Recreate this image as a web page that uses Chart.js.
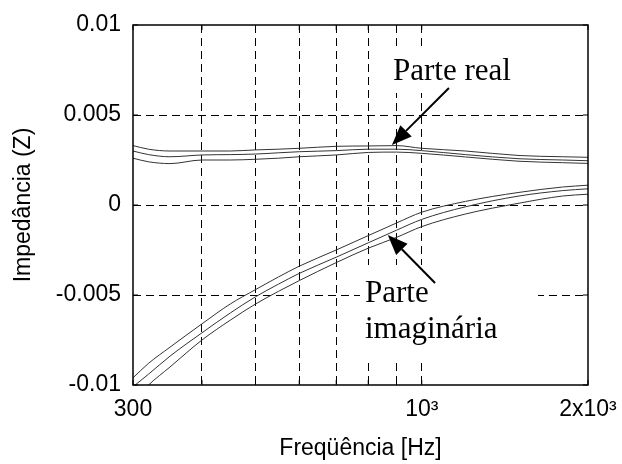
<!DOCTYPE html>
<html>
<head>
<meta charset="utf-8">
<script src="https://cdn.jsdelivr.net/npm/chart.js@4/dist/chart.umd.min.js"></script>
<style>
html, body { margin: 0; padding: 0; background: #fff; }
#caja { width: 622px; height: 464px; }
</style>
</head>
<body>
<div id="caja"><canvas id="grafico"></canvas></div>
<script>
// ---------------- DATOS ----------------
const frecuencias = [300, 320, 350, 400, 450, 500, 550, 600, 700, 800, 900, 1000, 1200, 1500, 1800, 2000];

// Parte real (tres curvas)
const realSup = [0.0033, 0.0031, 0.0030, 0.0030, 0.0030, 0.00306, 0.0031, 0.00315, 0.00326, 0.00328, 0.0033, 0.00315, 0.0030, 0.00275, 0.00268, 0.00265];
const realMed = [0.0030, 0.0028, 0.00268, 0.00278, 0.0028, 0.00283, 0.0029, 0.00296, 0.00302, 0.0031, 0.0031, 0.00302, 0.0028, 0.00257, 0.0025, 0.00246];
const realInf = [0.0026, 0.0024, 0.0023, 0.0025, 0.0025, 0.00254, 0.0026, 0.00268, 0.00278, 0.00292, 0.00294, 0.00287, 0.00267, 0.00243, 0.00235, 0.00231];

// Parte imaginaria (tres curvas)
const imagSup = [-0.0096, -0.0088, -0.0079, -0.0066, -0.0055, -0.0047, -0.0040, -0.0034, -0.0025, -0.0017, -0.0010, -0.0004, 0.0002, 0.0007, 0.0010, 0.0011];
const imagMed = [-0.0101, -0.0094, -0.0084, -0.0071, -0.0060, -0.0051, -0.0044, -0.0038, -0.0029, -0.0021, -0.0014, -0.0008, -0.0001, 0.0005, 0.0008, 0.0009];
const imagInf = [-0.0109, -0.0100, -0.0090, -0.0075, -0.0064, -0.0055, -0.0048, -0.0042, -0.0032, -0.0024, -0.0018, -0.0012, -0.0005, 0.0001, 0.0005, 0.0006];

// Ejes
const ticksX = [300, 400, 500, 600, 700, 800, 900, 1000, 2000];
const rotulosX = { 300: '300', 1000: '10³', 2000: '2x10³' };
const ticksY = [-0.01, -0.005, 0, 0.005, 0.01];
const rotulosY = ['-0.01', '-0.005', '0', '0.005', '0.01'];

// Flechas: [cola, punta] en coordenadas de datos
const flechaReal = [[1120, 0.0065], [883, 0.00333]];
const flechaImag = [[1057, -0.00433], [868, -0.00167]];

// ---------------- GRÁFICA ----------------
function serie(valores) {
    return {
        data: frecuencias.map((f, i) => ({ x: f, y: valores[i] })),
        borderColor: '#333',
        borderWidth: 1,
        pointRadius: 0,
        cubicInterpolationMode: 'monotone',
        fill: false
    };
}

function dibujarFlecha(ctx, x1, y1, x2, y2) {
    const ang = Math.atan2(y2 - y1, x2 - x1);
    const largo = 20, ancho = 8;
    const bx = x2 - largo * Math.cos(ang), by = y2 - largo * Math.sin(ang);
    ctx.strokeStyle = '#000';
    ctx.fillStyle = '#000';
    ctx.lineWidth = 2;
    ctx.beginPath();
    ctx.moveTo(x1, y1);
    ctx.lineTo(bx, by);
    ctx.stroke();
    ctx.beginPath();
    ctx.moveTo(x2, y2);
    ctx.lineTo(bx + ancho * Math.sin(ang), by - ancho * Math.cos(ang));
    ctx.lineTo(bx - ancho * Math.sin(ang), by + ancho * Math.cos(ang));
    ctx.closePath();
    ctx.fill();
}

const marco = {
    id: 'marco',
    afterDatasetsDraw(chart) {
        const { ctx, chartArea: a, scales } = chart;
        ctx.save();
        // marco del área
        ctx.strokeStyle = '#000';
        ctx.lineWidth = 1.5;
        ctx.strokeRect(a.left, a.top, a.right - a.left, a.bottom - a.top);
        // marcas hacia dentro
        ctx.lineWidth = 1;
        ctx.beginPath();
        ticksX.forEach(v => {
            const x = scales.x.getPixelForValue(v);
            ctx.moveTo(x, a.bottom); ctx.lineTo(x, a.bottom - 5);
            ctx.moveTo(x, a.top); ctx.lineTo(x, a.top + 5);
        });
        ticksY.forEach(v => {
            const y = scales.y.getPixelForValue(v);
            ctx.moveTo(a.left, y); ctx.lineTo(a.left + 5, y);
            ctx.moveTo(a.right, y); ctx.lineTo(a.right - 5, y);
        });
        ctx.stroke();

        // textos con fondo blanco
        ctx.fillStyle = '#fff';
        ctx.fillRect(388, 50, 132, 43);
        ctx.fillRect(360, 265, 178, 95);
        ctx.fillStyle = '#000';
        ctx.font = '31px "Liberation Serif", "Times New Roman", serif';
        ctx.textBaseline = 'alphabetic';
        ctx.textAlign = 'left';
        ctx.fillText('Parte real', 393, 80);
        ctx.fillText('Parte', 365, 302);
        ctx.fillText('imaginária', 365, 338);

        [flechaReal, flechaImag].forEach(([c, p]) => {
            dibujarFlecha(ctx,
                scales.x.getPixelForValue(c[0]), scales.y.getPixelForValue(c[1]),
                scales.x.getPixelForValue(p[0]), scales.y.getPixelForValue(p[1]));
        });
        ctx.restore();
    }
};

const fuente = { family: '"Liberation Sans", Arial, sans-serif', size: 23 };

new Chart(document.getElementById('grafico'), {
    type: 'line',
    data: {
        datasets: [serie(realSup), serie(realMed), serie(realInf), serie(imagSup), serie(imagMed), serie(imagInf)]
    },
    options: {
        responsive: true,
        maintainAspectRatio: false,
        animation: false,
        layout: { padding: { top: 25, right: 34, left: 10, bottom: 0 } },
        plugins: { legend: { display: false }, tooltip: { enabled: false } },
        scales: {
            x: {
                type: 'logarithmic',
                min: 300,
                max: 2000,
                afterBuildTicks: s => { s.ticks = ticksX.map(v => ({ value: v })); },
                afterFit: s => { s.height = 464 - 385; s.paddingLeft = 0; s.paddingRight = 0; },
                ticks: {
                    autoSkip: false,
                    maxRotation: 0,
                    color: '#000',
                    font: fuente,
                    padding: 11,
                    callback: v => rotulosX[v] || ''
                },
                grid: {
                    drawTicks: false,
                    color: c => (c.tick && (c.tick.value === 300 || c.tick.value === 2000)) ? 'rgba(0,0,0,0)' : '#000',
                    lineWidth: 1
                },
                border: { display: false, dash: [8, 5] },
                title: {
                    display: true,
                    text: 'Freqüência [Hz]',
                    color: '#000',
                    font: fuente,
                    padding: { top: 0, bottom: 2 }
                }
            },
            y: {
                min: -0.01,
                max: 0.01,
                afterBuildTicks: s => { s.ticks = ticksY.map(v => ({ value: v })); },
                afterFit: s => { s.width = 123; s.paddingTop = 0; s.paddingBottom = 0; },
                ticks: {
                    color: '#000',
                    font: fuente,
                    padding: 12,
                    callback: (v, i) => rotulosY[i]
                },
                grid: {
                    drawTicks: false,
                    color: c => (c.tick && (c.tick.value === -0.01 || c.tick.value === 0.01)) ? 'rgba(0,0,0,0)' : '#000',
                    lineWidth: 1
                },
                border: { display: false, dash: [8, 5] },
                title: {
                    display: true,
                    text: 'Impedância (Z)',
                    color: '#000',
                    font: fuente,
                    padding: { top: 0, bottom: 0 }
                }
            }
        }
    },
    plugins: [marco]
});
</script>
</body>
</html>
